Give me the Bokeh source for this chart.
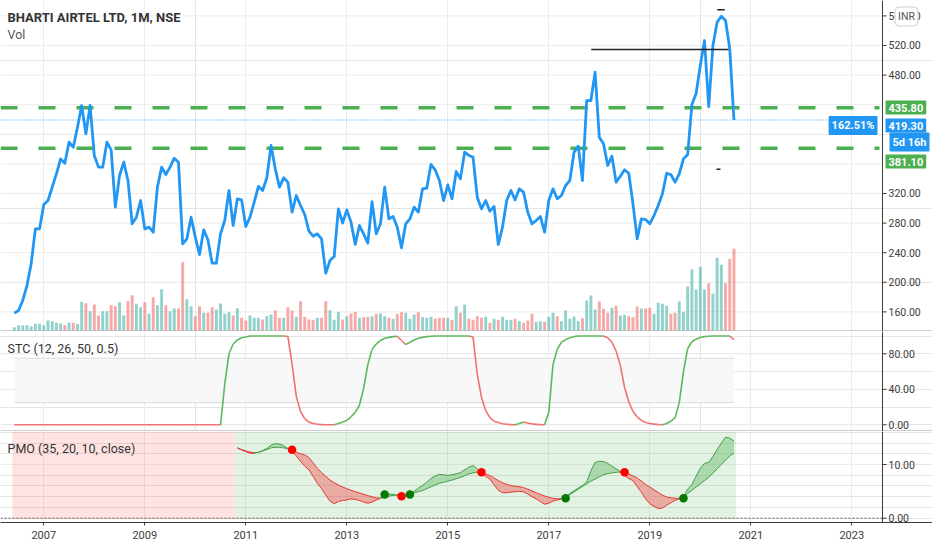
from bokeh.plotting import figure
from bokeh.layouts import column
from bokeh.models import (Range1d, FixedTicker, NumeralTickFormatter, Span, Label, Grid)
from bokeh.embed import file_html
from bokeh.resources import INLINE

# ---------------- data (monthly, Jun 2006 .. Sep 2020) ----------------
START_YEAR, START_MONTH = 2006, 6
close = [
    158.3, 161.9, 175.4, 195.6, 225.0, 272.2, 272.2, 305.1, 310.5, 328.6,
    346.6, 366.8, 361.0, 389.4, 382.6, 409.6, 438.9, 400.6, 438.9, 371.4,
    355.6, 355.6, 389.4, 379.0, 301.5, 344.3, 362.3, 337.6, 279.0, 288.0,
    310.5, 272.2, 274.5, 267.7, 328.6, 355.6, 345.7, 355.6, 367.7, 362.3,
    252.0, 258.7, 288.0, 261.0, 237.5, 270.9, 257.4, 225.8, 225.8, 265.5,
    283.5, 324.0, 276.8, 312.8, 311.4, 275.4, 288.0, 308.3, 329.5, 324.0,
    341.2, 384.9, 353.3, 328.6, 341.2, 335.3, 294.8, 317.3, 303.8, 291.6,
    269.1, 262.3, 265.5, 258.7, 212.3, 229.4, 234.8, 299.3, 279.9, 297.9,
    281.3, 251.1, 276.7, 265.5, 252.9, 309.0, 265.5, 279.0, 328.6, 285.8,
    288.9, 274.5, 246.6, 279.0, 285.8, 301.5, 294.8, 326.3, 327.2, 359.2,
    352.0, 337.6, 310.5, 331.7, 312.8, 349.7, 339.8, 375.9, 371.4, 369.1,
    315.0, 299.3, 310.5, 296.1, 302.4, 251.1, 274.5, 310.5, 324.0, 311.4,
    326.3, 321.8, 294.8, 279.0, 283.5, 288.9, 267.7, 310.5, 326.3, 312.8,
    317.3, 330.8, 337.5, 375.8, 384.0, 337.5, 445.6, 445.6, 484.0, 396.1,
    387.1, 357.8, 370.4, 335.3, 343.4, 352.0, 347.4, 306.0, 258.7, 285.7,
    284.8, 279.0, 290.2, 303.8, 319.5, 347.4, 345.6, 335.3, 346.5, 366.8,
    372.7, 440.2, 454.7, 493.0, 526.7, 437.5, 520.0, 551.5, 559.6, 553.8,
    515.5, 419.3,
]
volume = [
    3.3, 5.3, 5.3, 5.3, 4.3, 6.7, 6.7, 5.3, 10.0, 9.3,
    7.7, 7.0, 5.3, 7.7, 7.7, 6.7, 28.7, 27.3, 19.3, 26.0,
    15.0, 19.3, 19.3, 25.3, 24.3, 28.3, 15.0, 29.3, 35.3, 26.7,
    23.3, 28.3, 16.7, 33.3, 25.3, 41.3, 25.3, 19.3, 22.0, 22.0,
    68.3, 31.3, 24.3, 14.3, 24.3, 17.7, 17.7, 23.3, 21.0, 27.0,
    16.7, 18.3, 15.0, 22.0, 12.7, 10.0, 15.0, 12.7, 12.7, 11.0,
    14.3, 16.0, 20.0, 12.7, 12.7, 23.3, 20.0, 13.7, 29.3, 13.7,
    11.0, 10.7, 12.7, 12.7, 29.3, 20.3, 10.7, 18.7, 11.0, 14.3,
    17.0, 18.7, 12.7, 13.3, 13.7, 14.3, 16.7, 17.0, 14.3, 12.7,
    11.7, 16.7, 18.3, 17.7, 11.7, 16.0, 18.3, 13.3, 12.7, 13.7,
    12.0, 12.7, 12.7, 12.7, 10.7, 24.3, 17.7, 26.0, 11.7, 10.7,
    14.3, 12.7, 13.7, 7.7, 11.7, 10.7, 13.7, 10.7, 10.7, 11.7,
    9.3, 7.7, 10.0, 16.7, 8.7, 9.3, 8.7, 13.7, 17.7, 14.3,
    9.3, 20.0, 11.7, 14.0, 9.3, 12.3, 30.0, 35.0, 21.0, 29.0,
    21.7, 17.7, 22.7, 24.7, 15.0, 15.7, 14.3, 13.3, 24.0, 22.0,
    22.0, 22.7, 16.7, 27.7, 26.7, 24.7, 16.7, 17.7, 29.0, 18.7,
    44.0, 61.0, 41.0, 63.7, 41.0, 47.3, 37.0, 72.7, 65.7, 47.3,
    71.7, 81.7,
]
stc = [
    0, 0, 0, 0, 0, 0, 0, 0, 0, 0,
    0, 0, 0, 0, 0, 0, 0, 0, 0, 0,
    0, 0, 0, 0, 0, 0, 0, 0, 0, 0,
    0, 0, 0, 0, 0, 0, 0, 0, 0, 0,
    0, 0, 0, 0, 0, 0, 0, 0, 0, 0,
    46, 80, 91, 95.6, 98, 99, 100, 100, 100, 100,
    100, 100, 100, 100, 100, 99.5, 68, 32, 15, 7,
    3, 1.5, 0.6, 0.2, 0.1, 0, 0, 1.5, 3, 5,
    9, 14, 22, 41, 68, 85, 91, 95, 97.5, 98.5,
    99.3, 99.8, 95, 90.5, 93, 95.5, 97.5, 98.5, 99.3, 99.8,
    100, 100, 100, 100, 100, 100, 100, 100, 100, 99,
    57, 31, 16, 8, 4, 2.5, 1.2, 0.6, 0.2, 0,
    1.5, 3, 2, 1, 0.5, 0.2, 0.1, 14, 68, 85,
    93, 96, 98, 99.3, 100, 100, 100, 100, 100, 100,
    100, 98, 93, 83, 67, 42, 26, 15, 9, 5,
    2.5, 1.5, 0.8, 0.3, 0, 1.5, 4, 8, 25, 60,
    86, 93.5, 96.5, 98.3, 99.3, 99.7, 100, 100, 100, 100,
    100, 96,
]
PMO_START = 53  # first month index with PMO values
pmo = [
    13.1, 12.7, 12.4, 12.1, 12.1, 12.3, 12.6, 13.0, 13.6, 13.9,
    13.8, 13.5, 13.0, 12.6, 11.6, 10.6, 9.7, 9.0, 7.8, 6.5,
    5.5, 4.3, 3.2, 2.7, 3.1, 3.3, 3.4, 3.6, 3.5, 3.3,
    3.0, 2.8, 3.0, 3.4, 3.7, 4.4, 4.5, 4.45, 4.3, 4.1,
    4.3, 4.6, 5.0, 5.6, 6.1, 6.7, 7.4, 7.9, 8.15, 8.1,
    7.95, 8.1, 8.25, 8.5, 9.0, 9.5, 9.8, 9.2, 8.3, 7.8,
    7.3, 6.2, 5.2, 4.75, 4.75, 4.85, 4.95, 5.0, 4.9, 4.5,
    4.0, 3.6, 3.1, 2.6, 2.8, 3.2, 3.4, 3.6, 3.9, 4.6,
    5.1, 5.6, 6.1, 6.7, 8.8, 10.4, 10.6, 10.55, 10.2, 9.7,
    9.2, 8.7, 7.9, 7.4, 7.0, 5.9, 4.8, 3.6, 2.7, 2.2,
    1.8, 1.9, 2.4, 2.9, 3.3, 3.6, 3.9, 5.4, 6.3, 7.8,
    9.3, 10.2, 10.4, 11.5, 12.8, 14.0, 15.1, 14.9, 14.4,
]
pmo_signal = [
    13.1, 12.8, 12.55, 12.3, 12.2, 12.25, 12.5, 12.8, 13.1, 13.2,
    13.2, 13.1, 12.9, 12.7, 12.3, 12.0, 11.8, 11.3, 10.3, 9.3,
    8.5, 7.8, 7.1, 6.6, 6.2, 5.8, 5.5, 5.2, 4.95, 4.7,
    4.45, 4.2, 4.0, 3.8, 3.75, 3.9, 4.1, 4.25, 4.3, 4.3,
    4.3, 4.4, 4.7, 4.95, 5.15, 5.5, 5.85, 6.2, 6.5, 6.7,
    6.9, 7.1, 7.35, 7.6, 7.9, 8.25, 8.45, 8.6, 8.6, 8.2,
    7.95, 7.5, 7.0, 6.6, 6.3, 6.1, 5.95, 5.85, 5.7, 5.4,
    5.1, 4.75, 4.45, 4.15, 3.9, 3.7, 3.6, 3.65, 3.75, 4.4,
    4.9, 5.4, 5.9, 6.4, 6.9, 7.3, 7.7, 8.1, 8.3, 8.45,
    8.55, 8.6, 8.5, 8.2, 7.9, 7.5, 6.9, 6.3, 5.8, 5.3,
    4.8, 4.3, 3.95, 3.8, 3.7, 3.7, 3.75, 4.6, 5.2, 5.8,
    6.4, 7.0, 7.6, 8.4, 9.2, 10.0, 10.8, 11.6, 12.1,
]
cross_up_idx = [88, 94, 131, 159]
cross_up_val = [4.41, 4.41, 3.73, 3.73]
cross_dn_idx = [66, 92, 111, 145]
cross_dn_val = [12.73, 4.10, 8.57, 8.57]

level_values = [435.80, 381.10]
last_price = 419.30
change_text = "162.51%"
countdown_text = "5d 16h"
trend_line_x = [2017.84, 2020.56]
trend_line_y = [514.6, 514.6]
mark_hi_x = [2020.335, 2020.485]
mark_hi_y = [568.2, 568.2]
mark_lo_x = [2020.32, 2020.40]
mark_lo_y = [352.8, 352.8]
year_ticks = [2007, 2009, 2011, 2013, 2015, 2017, 2019, 2021, 2023]
price_ticks = [160, 200, 240, 280, 320, 480, 520, 560]
price_grid = [160, 200, 240, 280, 320, 360, 400, 440, 480, 520, 560]
stc_ticks = [0, 40, 80]
pmo_ticks = [0, 10]

# ---------------- layout constants (reference pixels) ----------------
FONT = "Roboto"
W = 932
AXIS_X = 882
X0 = 2006.1426
PX_PER_YEAR = 50.5
X1 = X0 + W / PX_PER_YEAR
Y1_TOP, Y1_BOT = 580.8, 133.5
Y2_TOP, Y2_BOT = 105.1, -7.55
Y3_TOP, Y3_BOT = 16.15, -0.80
AX = "#3c3c3c"
GRID = "#ececec"
GREEN = "#4caf50"
RED = "#ef5350"
BLUE = "#2196f3"

t = [START_YEAR + (START_MONTH - 1 + i) / 12.0 for i in range(len(close))]
tv = [START_YEAR + (START_MONTH - 1 + i) / 12.0 for i in range(len(volume))]
ts = [START_YEAR + (START_MONTH - 1 + i) / 12.0 for i in range(len(stc))]
tp = [START_YEAR + (START_MONTH - 1 + PMO_START + i) / 12.0 for i in range(len(pmo))]


def fx(ref_x):
    return X0 + ref_x / PX_PER_YEAR


def py1(ref_y):
    return Y1_TOP - ref_y * (Y1_TOP - Y1_BOT) / 331.0


def py2(ref_y):
    return Y2_TOP - (ref_y - 331) * (Y2_TOP - Y2_BOT) / 100.0


def py3(ref_y):
    return Y3_TOP - (ref_y - 431) * (Y3_TOP - Y3_BOT) / 91.0


xr = Range1d(X0, X1)


def text(p, x, y, s, size, color, bold=False, align="left", **kw):
    p.add_layout(Label(x=x, y=y, text=s, text_font=FONT, text_font_size=f"{size}px",
                       text_color=color, text_font_style="bold" if bold else "normal",
                       text_align=align, text_baseline="middle", **kw))


def make(h, y0, y1, ticks, grid_vals, xaxis=False):
    p = figure(frame_width=W, frame_height=h, x_range=xr, y_range=Range1d(y0, y1),
               output_backend="svg", toolbar_location=None,
               x_axis_location="below" if xaxis else None, y_axis_location=None,
               min_border_left=0, min_border_right=0, min_border_top=0,
               min_border_bottom=28 if xaxis else 0)
    p.outline_line_color = None
    p.background_fill_color = "white"
    p.border_fill_color = "white"
    if xaxis:
        xa = p.xaxis[0]
        xa.ticker = FixedTicker(ticks=year_ticks)
        xa.formatter = NumeralTickFormatter(format="0")
        xa.axis_line_color = AX
        xa.major_tick_line_color = AX
        xa.major_tick_out = 3
        xa.major_tick_in = 0
        xa.minor_tick_line_color = None
        xa.major_label_standoff = 5
        xa.major_label_text_font = FONT
        xa.major_label_text_font_size = "11px"
        xa.major_label_text_color = AX
        p.xgrid.grid_line_color = GRID
        p.xgrid.ticker = FixedTicker(ticks=year_ticks)
    else:
        p.add_layout(Grid(dimension=0, ticker=FixedTicker(ticks=year_ticks),
                          grid_line_color=GRID))
    # horizontal grid, stopping at the price scale
    p.segment(x0=[X0] * len(grid_vals), x1=[fx(AXIS_X)] * len(grid_vals),
              y0=grid_vals, y1=grid_vals, line_color=GRID, line_width=1)
    return p


def price_scale(p, ticks):
    p.add_layout(Span(location=fx(AXIS_X), dimension="height", line_color=AX, line_width=1))
    p.segment(x0=[fx(AXIS_X)] * len(ticks), x1=[fx(AXIS_X + 4)] * len(ticks),
              y0=ticks, y1=ticks, line_color=AX, line_width=1)
    for v in ticks:
        text(p, fx(AXIS_X + 6), v, f"{v:.2f}", 10.5, AX)


# ---------------- main price pane ----------------
p1 = make(331, Y1_BOT, Y1_TOP, price_ticks, price_grid)
p1.extra_y_ranges = {"vol": Range1d(-1, 330)}
vcol = ["#26a69a" if i == 0 or close[i] >= close[i - 1] else RED for i in range(len(volume))]
p1.vbar(x=tv, top=volume, bottom=0, width=0.058, y_range_name="vol",
        fill_color=vcol, fill_alpha=0.5, line_color=None)
for lv in level_values:
    p1.line([X0, fx(879)], [lv, lv], line_color=GREEN, line_width=3.5, line_dash="17 21")
p1.line([X0, fx(835)], [last_price, last_price], line_color=BLUE, line_width=1,
        line_dash="1 2")
p1.line(t, close, line_color=BLUE, line_width=2.8, line_join="round")
p1.line(trend_line_x, trend_line_y, line_color="#222222", line_width=1.4)
p1.line(mark_hi_x, mark_hi_y, line_color="#222222", line_width=1.4)
p1.line(mark_lo_x, mark_lo_y, line_color="#222222", line_width=1.4)
p1.add_layout(Span(location=Y1_BOT, dimension="width", line_color=AX, line_width=1.5))
price_scale(p1, price_ticks)

text(p1, fx(7), py1(17), "BHARTI AIRTEL LTD, 1M, NSE", 13, "#333333", bold=True)
text(p1, fx(7), py1(34), "Vol", 12.5, "#555555")
box = dict(padding=3, border_radius=1)
text(p1, fx(885), py1(107), f"{level_values[0]:.2f}", 11, "white", bold=True,
     background_fill_color=GREEN, **box)
text(p1, fx(885), py1(125), f"{last_price:.2f}", 11, "white", bold=True,
     background_fill_color=BLUE, **box)
text(p1, fx(877), py1(125), change_text, 11, "white", bold=True, align="right",
     background_fill_color=BLUE, **box)
text(p1, fx(889), py1(141.5), countdown_text, 11, "white", bold=True,
     background_fill_color=BLUE, **box)
text(p1, fx(885), py1(161), f"{level_values[1]:.2f}", 11, "white", bold=True,
     background_fill_color=GREEN, **box)
text(p1, fx(906), py1(16), "INR", 10.5, "#555555", align="center",
     background_fill_color="white", border_line_color="#cfcfcf", padding=3, border_radius=4)

# ---------------- STC pane ----------------
p2 = make(100, Y2_BOT, Y2_TOP, stc_ticks, stc_ticks)
p2.varea(x=[ts[0], ts[-1]], y1=[25, 25], y2=[75, 75], fill_color="#f8f8f8")
p2.multi_line([[ts[0], ts[-1]], [ts[0], ts[-1]]], [[25, 25], [75, 75]],
              line_color="#dadada", line_width=1)
scol = []
cur = RED
for i in range(len(stc)):
    if i > 0 and stc[i] > stc[i - 1]:
        cur = GREEN
    elif i > 0 and stc[i] < stc[i - 1]:
        cur = RED
    scol.append(cur)
p2.multi_line([[ts[i - 1], ts[i]] for i in range(1, len(stc))],
              [[stc[i - 1], stc[i]] for i in range(1, len(stc))],
              line_color=[("#5cb85c" if scol[i] == GREEN else "#f07070") for i in range(1, len(stc))],
              line_width=1.6)
p2.add_layout(Span(location=Y2_BOT, dimension="width", line_color=AX, line_width=1.5))
price_scale(p2, stc_ticks)
text(p2, fx(7), py2(348), "STC (12, 26, 50, 0.5)", 12.5, "#333333")

# ---------------- PMO pane ----------------
p3 = make(91, Y3_BOT, Y3_TOP, pmo_ticks, [10], xaxis=True)
half = 1 / 24.0
p3.quad(left=[ts[0] - half, tp[0] - half], right=[tp[0] - half, tp[-1] + half],
        bottom=[-0.15, -0.15], top=[Y3_TOP, Y3_TOP],
        fill_color=["#ff5252", GREEN], fill_alpha=0.16, line_color=None)
p3.line([X0, fx(AXIS_X)], [0, 0], line_color="#555555", line_width=1, line_dash="2 2")
xs, ys, fc, lc = [], [], [], []
for i in range(1, len(pmo)):
    up = pmo[i] >= pmo_signal[i]
    xs.append([tp[i - 1], tp[i], tp[i], tp[i - 1]])
    ys.append([pmo[i - 1], pmo[i], pmo_signal[i], pmo_signal[i - 1]])
    fc.append("#66bb6a" if up else "#ef5350")
    lc.append("#43a047" if up else "#e53935")
p3.patches(xs, ys, fill_color=fc, fill_alpha=0.45, line_color=None)
p3.multi_line([[tp[i - 1], tp[i]] for i in range(1, len(pmo))],
              [[pmo[i - 1], pmo[i]] for i in range(1, len(pmo))], line_color=lc, line_width=1)
p3.multi_line([[tp[i - 1], tp[i]] for i in range(1, len(pmo))],
              [[pmo_signal[i - 1], pmo_signal[i]] for i in range(1, len(pmo))],
              line_color=lc, line_width=1)
tmon = lambda k: START_YEAR + (START_MONTH - 1 + k) / 12.0
p3.scatter([tmon(k) for k in cross_dn_idx], cross_dn_val, size=8.5,
           fill_color="#ff0000", line_color=None)
p3.scatter([tmon(k) for k in cross_up_idx], cross_up_val, size=8.5,
           fill_color="#007a00", line_color=None)
price_scale(p3, pmo_ticks)
text(p3, fx(7), py3(448), "PMO (35, 20, 10, close)", 12.5, "#333333")

layout = column(p1, p2, p3, spacing=0)
open("out.html", "w").write(file_html(layout, INLINE))
